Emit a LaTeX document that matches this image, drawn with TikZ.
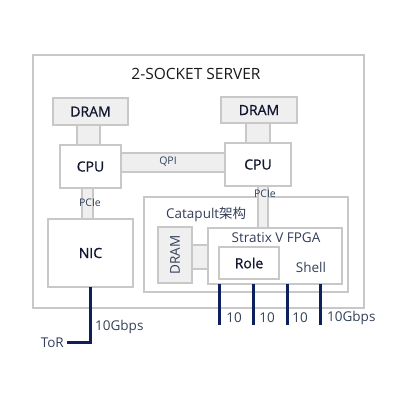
\documentclass[tikz,border=0pt]{standalone}
\usepackage{fontspec}
\setmainfont{Open Sans}
\newfontfamily\semib[FakeBold=0.8]{Open Sans}
\newfontfamily\cjk{Noto Sans CJK SC}
\definecolor{bord}{HTML}{C8C8C8}
\definecolor{fillg}{HTML}{EFEFEF}
\definecolor{navy}{HTML}{0D1F5C}
\definecolor{maintxt}{HTML}{12162E}
\definecolor{subtxt}{HTML}{33405A}
\begin{document}
\begin{tikzpicture}[x=1pt,y=-1pt,
  box/.style={draw=bord,line width=1.6pt,fill=white,inner sep=0pt,outer sep=0pt},
  gbox/.style={draw=bord,line width=1.6pt,fill=fillg,inner sep=0pt,outer sep=0pt},
  lbl/.style={text=maintxt,font=\semib\fontsize{14}{16}\selectfont,inner sep=0pt},
  slbl/.style={text=subtxt,font=\fontsize{13.5}{16}\selectfont,inner sep=0pt},
  tlbl/.style={text=subtxt,font=\fontsize{10.5}{12}\selectfont,inner sep=0pt},
  wire/.style={draw=navy,line width=3pt}]
\useasboundingbox (0,0) rectangle (400,400);
% server
\node[box,minimum width=331pt,minimum height=253pt] (server) at (198.5,181.5) {};
\node[text=black!90,font=\fontsize{15.5}{18}\selectfont,inner sep=0pt] (title) at (196,74) {2-SOCKET SERVER};
% catapult
\node[box,minimum width=204pt,minimum height=95pt] (cat) at (246,244.5) {};
\node[slbl,anchor=west] (catl) at (166,214) {Catapult{\cjk 架构}};
% links
\node[gbox,minimum width=104pt,minimum height=19pt] (qpi) at (173,162.5) {};
\node[tlbl] (qpil) at (168,162) {QPI};
\node[gbox,minimum width=23pt,minimum height=20pt] (l1) at (88.5,135) {};
\node[gbox,minimum width=24pt,minimum height=20pt] (l2) at (258,133) {};
\node[gbox,minimum width=11pt,minimum height=31pt] (pcie1) at (87.5,203.5) {};
\node[tlbl] (pcie1l) at (90,203) {PCIe};
\node[gbox,minimum width=10pt,minimum height=42pt] (pcie2) at (263,207) {};
\node[tlbl] (pcie2l) at (265,194) {PCIe};
\node[gbox,minimum width=16pt,minimum height=24pt] (l3) at (200,257) {};
% boxes
\node[gbox,minimum width=75pt,minimum height=27pt] (dram1) at (90.5,111.5) {};
\node[lbl] at (dram1) {DRAM};
\node[gbox,minimum width=76pt,minimum height=26pt] (dram2) at (259,110) {};
\node[lbl] at (dram2) {DRAM};
\node[box,minimum width=61pt,minimum height=43pt] (cpu1) at (90.5,166.5) {};
\node[lbl] at (cpu1) {CPU};
\node[box,minimum width=66pt,minimum height=43pt] (cpu2) at (258,164.5) {};
\node[lbl] at (cpu2) {CPU};
\node[box,minimum width=85pt,minimum height=68pt] (nic) at (90.5,253) {};
\node[lbl] at (nic) {NIC};
\node[gbox,minimum width=34pt,minimum height=56pt] (dram3) at (175,255) {};
\node[slbl,rotate=90] at (dram3) {DRAM};
\node[box,minimum width=134pt,minimum height=56pt] (fpga) at (275,256) {};
\node[slbl] (fpgal) at (276,238) {Stratix V FPGA};
\node[box,minimum width=60pt,minimum height=32pt] (role) at (249,263) {};
\node[lbl] at (role) {Role};
\node[slbl] (shell) at (311,267) {Shell};
% wires
\coordinate (p1) at (219,325);
\coordinate (p2) at (253,325);
\coordinate (p3) at (287,325);
\coordinate (p4) at (320,325);
\foreach \p in {p1,p2,p3,p4} \draw[wire] (fpga.south -| \p) -- (\p);
\node[slbl] at (234,318) {10};
\node[slbl] at (267,318) {10};
\node[slbl] at (300,318) {10};
\node[slbl,anchor=west] at (327,318) {10Gbps};
\coordinate (tor) at (67,342);
\draw[wire] (nic.south) |- (tor);
\node[slbl,anchor=east] (torl) at (64,343) {ToR};
\node[slbl,anchor=west] (gb) at (95,327) {10Gbps};
\end{tikzpicture}
\end{document}
